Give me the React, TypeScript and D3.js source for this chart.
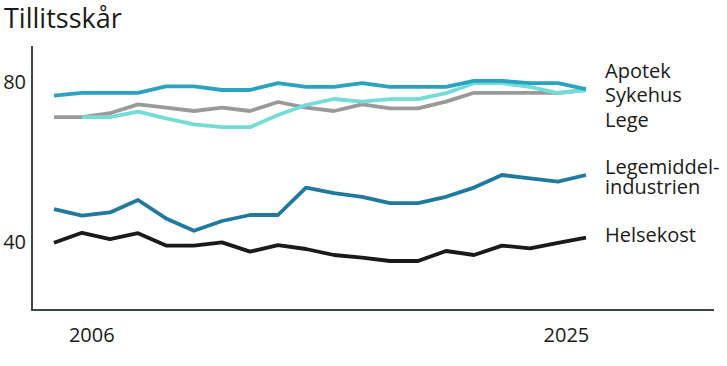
import * as d3 from 'd3';

const W = 727;
const H = 366;

const apotek = [76.6, 77.3, 77.3, 77.3, 78.9, 78.9, 78.0, 78.0, 79.7, 78.8, 78.8, 79.7, 78.8, 78.8, 78.8, 80.3, 80.3, 79.7, 79.7, 78.2];
const sykehus = [71.2, 71.2, 72.2, 74.4, 73.6, 72.75, 73.6, 72.75, 75.0, 73.6, 72.75, 74.4, 73.4, 73.4, 75.1, 77.3, 77.3, 77.3, 77.3, 78.0];
const lege = [null, 71.2, 71.2, 72.6, 70.9, 69.4, 68.7, 68.7, 71.75, 74.25, 75.75, 75.1, 75.7, 75.7, 77.2, 79.7, 79.7, 78.8, 77.2, 78.0];
const legemiddel = [48.2, 46.6, 47.4, 50.5, 45.9, 42.8, 45.25, 46.75, 46.75, 53.6, 52.2, 51.3, 49.7, 49.7, 51.3, 53.6, 56.75, 55.9, 55.1, 56.75];
const helsekost = [39.8, 42.3, 40.7, 42.2, 39.1, 39.1, 39.9, 37.6, 39.2, 38.25, 36.75, 36.1, 35.25, 35.25, 37.75, 36.75, 39.1, 38.4, 39.8, 41.1];

const yTicks = [40, 80];
const xTickLabels = ['2006', '2025'];
const xTickAt = [1.35, 18.3];

const series = [
  { name: 'Legemiddelindustrien', values: legemiddel, color: '#1f7a9e' },
  { name: 'Helsekost', values: helsekost, color: '#1a1a1a' },
  { name: 'Sykehus', values: sykehus, color: '#9a9a9a' },
  { name: 'Lege', values: lege, color: '#74dcd6' },
  { name: 'Apotek', values: apotek, color: '#2aa3c1' },
];

// labels at the right end, grouped as in the original
const labels = [
  { lines: ['Apotek'], y: 77.5 },
  { lines: ['Sykehus'], y: 102 },
  { lines: ['Lege'], y: 126.5 },
  { lines: ['Legemiddel-', 'industrien'], y: 174 },
  { lines: ['Helsekost'], y: 241.5 },
];

const font = '"Open Sans", "Noto Sans", sans-serif';

export default function App() {
  const x = d3.scaleLinear().domain([0, apotek.length - 1]).range([54, 586]);
  const y = d3.scaleLinear().domain([40, 80]).range([242, 82]);

  const line = d3
    .line<number | null>()
    .defined((d) => d != null)
    .x((_, i) => x(i))
    .y((d) => y(d as number));

  const axisLeft = 32;
  const axisTop = 46;
  const axisBottom = 310;
  const axisRight = 714;

  return (
    <svg width={W} height={H} style={{ position: 'absolute', left: 0, top: 0, background: '#fff' }} fontFamily={font}>
      <text x={4} y={28} fontSize={27} fill="#1a1a1a">Tillitsskår</text>

      {yTicks.map((t) => (
        <text key={t} x={26} y={y(t)} dy="0.35em" textAnchor="end" fontSize={20} fill="#1a1a1a">
          {t}
        </text>
      ))}

      {series.map((s) => (
        <path
          key={s.name}
          d={line(s.values) || ''}
          fill="none"
          stroke={s.color}
          strokeWidth={3.8}
          strokeLinejoin="round"
        />
      ))}

      <line x1={axisLeft} x2={axisLeft} y1={axisTop} y2={axisBottom + 1} stroke="#3b4747" strokeWidth={2} />
      <line x1={axisLeft} x2={axisRight} y1={axisBottom} y2={axisBottom} stroke="#3b4747" strokeWidth={2} />

      {xTickLabels.map((l, i) => (
        <text key={l} x={x(xTickAt[i])} y={342} textAnchor="middle" fontSize={20} fill="#1a1a1a">
          {l}
        </text>
      ))}

      {labels.map((lb) => (
        <text key={lb.lines[0]} x={605} y={lb.y} fontSize={20} fill="#1a1a1a">
          {lb.lines.map((ln, j) => (
            <tspan key={ln} x={605} dy={j === 0 ? 0 : 20}>
              {ln}
            </tspan>
          ))}
        </text>
      ))}
    </svg>
  );
}
